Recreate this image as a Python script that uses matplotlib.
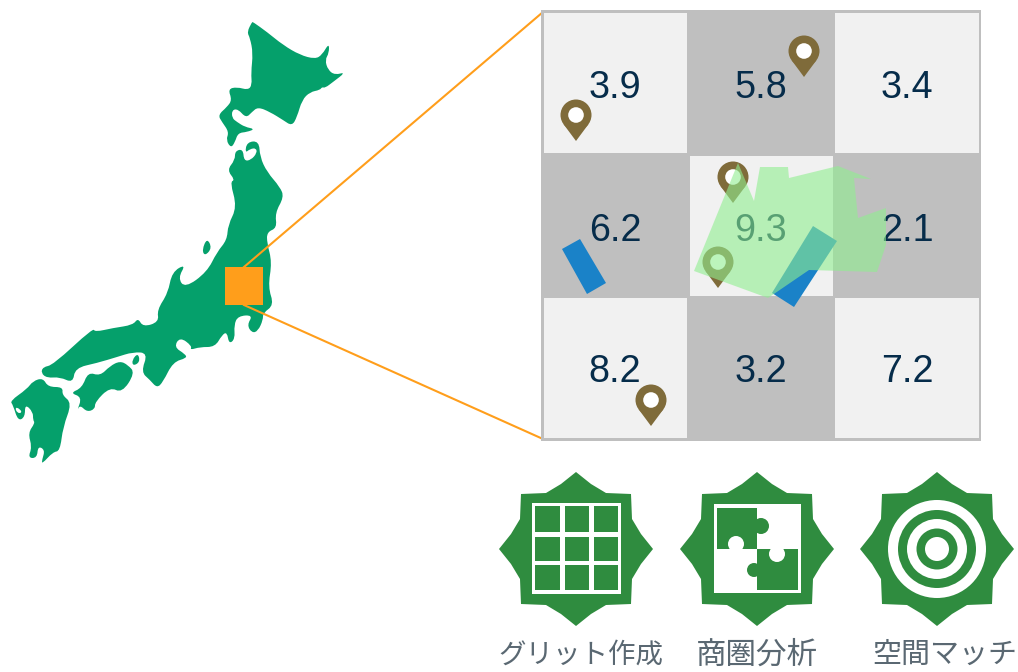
import numpy as np
import matplotlib
matplotlib.use("Agg")
import matplotlib.pyplot as plt
from matplotlib.patches import Polygon, Rectangle, Circle, PathPatch
from matplotlib.path import Path

# ---- data ----
cell_values = [[3.9, 5.8, 3.4], [6.2, 9.3, 2.1], [8.2, 3.2, 7.2]]
value_x = [615, 761, 907]
value_base = [98, 241, 382]
cell_x = [(544, 687), (690, 833), (835, 979)]
cell_y = [(13, 153), (156, 296), (298, 438)]
icon_labels = ["グリット作成", "商圏分析", "空間マッチ"]
label_x = [581, 757, 945]
label_px = [27.5, 30.5, 29]
icon_x = [576, 757, 937]
pins = [(576, 115), (804, 51), (733, 177), (718, 262), (651, 400)]

hokkaido = [(253,22),(267,32),(283,45),(300,55),(315,59),(322,55),(329,43),(329,53),(325,60),(328,70),(335,75),(346,72),
 (333,82),(325,88),(322,87),(320,90),(310,92),(302,100),(297,117),(292,126),(283,120),(270,112),(258,107),(252,112),
 (246,118),(238,109),(232,110),(232,118),(237,122),(245,127),(255,129),(247,132),(238,133),(235,142),(231,148),(226,140),
 (229,132),(222,122),(218,115),(227,107),(232,100),(228,89),(237,87),(248,90),(252,85),(251,73),(253,53),(250,38),(247,32),(252,22)]
honshu = [(247,142),(259,141),(260,157),(267,172),(280,187),(284,197),(275,213),(277,228),(267,232),(267,243),(272,262),
 (268,287),(274,305),(263,313),(263,320),(258,331),(252,333),(247,325),(253,315),(238,316),(234,325),(235,339),(229,344),
 (227,332),(222,335),(215,347),(200,347),(190,350),(192,346),(180,337),(174,347),(185,354),(187,358),(173,362),(163,382),
 (157,388),(150,380),(141,372),(148,353),(133,352),(117,357),(97,363),(75,368),(73,383),(60,377),(47,378),(41,373),(43,367),
 (53,365),(93,328),(95,332),(113,328),(133,325),(138,318),(143,327),(159,322),(157,310),(168,293),(172,272),(186,264),
 (178,278),(185,288),(207,272),(217,252),(227,240),(228,225),(237,207),(230,182),(235,180),(227,170),(235,160),(235,151),
 (243,149),(244,161),(251,160),(257,153),(256,148),(250,149),(245,153)]
sado = [(207,238),(212,248),(205,256),(202,250)]
awaji = [(138,353),(140,362),(133,366),(132,360)]
shikoku = [(120,361),(128,365),(135,373),(122,393),(110,387),(95,402),(95,409),(87,412),(80,405),(77,411),(82,397),(70,393),
 (82,388),(88,372),(100,376),(110,366)]
kyushu = [(43,378),(48,387),(63,387),(62,395),(72,403),(63,427),(60,451),(53,452),(42,464),(42,460),(45,450),(38,446),
 (37,458),(28,458),(32,447),(28,433),(35,423),(33,420),(33,412),(25,404),(25,417),(18,421),(13,405),(10,401),(27,389),(33,381)]
omura_bay = [(15,407),(20,409),(22,413),(17,413)]
area_poly = [(738,163),(754,201),(760,167),(788,167),(789,178),(838,166),(871,179),(854,178),(858,218),(886,208),(886,245),
 (877,272),(809,270),(768,298),(694,271)]
blue_rects = [[(562,249),(580,239),(606,283),(587,294)], [(813,226),(837,241),(794,307),(772,293)]]
zoom_sq = (225, 267, 38, 38)

GREEN = "#05a06b"; ORANGE = "#ff9e1b"; DARK = "#bfbfbf"; LIGHT = "#f1f1f1"; INK = "#062c4a"
PIN = "#7f6b3a"; BLUE = "#1a82c8"; ICON = "#2f8c3f"; GREY = "#5a6872"

plt.rcParams['font.family'] = ['Liberation Sans', 'DejaVu Sans']
fig = plt.figure(figsize=(10.18, 6.72), dpi=100)
ax = fig.add_axes([0, 0, 1, 1])
ax.set_xlim(0, 1018); ax.set_ylim(672, 0); ax.axis("off")

def smooth(pts):
    p = np.array(pts, float)
    n = len(p)
    verts = [(p[-1] + p[0]) / 2]; codes = [Path.MOVETO]
    for i in range(n):
        verts += [p[i], (p[i] + p[(i + 1) % n]) / 2]
        codes += [Path.CURVE3, Path.CURVE3]
    return Path(verts, codes)

for poly in [hokkaido, honshu, sado, awaji, shikoku, kyushu]:
    ax.add_patch(PathPatch(smooth(poly), fc=GREEN, ec="none", zorder=1))
ax.add_patch(PathPatch(smooth(omura_bay), fc="white", ec="none", zorder=1.5))

# callout
ax.add_patch(Rectangle(zoom_sq[:2], zoom_sq[2], zoom_sq[3], fc=ORANGE, ec="none", zorder=3))
cx_sq = zoom_sq[0] + zoom_sq[2] / 2
ax.plot([cx_sq, 543], [zoom_sq[1], 12], color=ORANGE, lw=1.5, zorder=2)
ax.plot([cx_sq, 543], [zoom_sq[1] + zoom_sq[3], 439], color=ORANGE, lw=1.5, zorder=2)

# grid
ax.add_patch(Rectangle((541, 10), 440, 431, fc=DARK, ec="none", zorder=4))
for r, row in enumerate(cell_values):
    for c, v in enumerate(row):
        if (r + c) % 2 == 0:
            ax.add_patch(Rectangle((cell_x[c][0], cell_y[r][0]), cell_x[c][1] - cell_x[c][0],
                                   cell_y[r][1] - cell_y[r][0], fc=LIGHT, ec="none", zorder=5))
        ax.text(value_x[c], value_base[r], f"{v:.1f}", ha="center", va="baseline",
                fontsize=27.2, color=INK, zorder=6)

for rect in blue_rects:
    ax.add_patch(Polygon(rect, closed=True, fc=BLUE, ec="none", zorder=7))

for (px, py) in pins:
    r = 15.5; d = 26.0
    a = np.arcsin(r / d)
    tx = r * np.cos(a); ty = r * np.sin(a)
    ax.add_patch(Circle((px, py), r, fc=PIN, ec="none", zorder=8))
    ax.add_patch(Polygon([(px - tx, py + ty), (px + tx, py + ty), (px, py + d)], closed=True,
                         fc=PIN, ec="none", zorder=8))
    ax.add_patch(Circle((px, py), 7.8, fc="white", ec="none", zorder=8))

ax.add_patch(Polygon(area_poly, closed=True, fc="#90ee90", ec="none", alpha=0.6, zorder=9))

# icons
star_unit = [(0,-77),(15,-65),(30,-56),(55,-55),(56,-30),(65,-15),(77,0),(65,15),(56,30),(55,55),(30,56),(15,65),
             (0,77),(-15,65),(-30,56),(-55,55),(-56,30),(-65,15),(-77,0),(-65,-15),(-56,-30),(-55,-55),(-30,-56),(-15,-65)]
iy = 549
for ix in icon_x:
    ax.add_patch(Polygon([(ix + a, iy + b) for a, b in star_unit], closed=True, fc=ICON, ec="none", zorder=2))

# icon 1: grid
ix = icon_x[0]
ax.add_patch(Rectangle((ix - 44, iy - 46), 89, 91, fc="white", ec="none", zorder=3))
for x0, x1 in [(-41, -16), (-11, 13), (18, 42)]:
    for y0, y1 in [(-43, -17), (-12, 12), (16, 41)]:
        ax.add_patch(Rectangle((ix + x0, iy + y0), x1 - x0, y1 - y0, fc=ICON, ec="none", zorder=4))

# icon 2: puzzle
ix = icon_x[1]
ax.add_patch(Rectangle((ix - 43, iy - 45), 87, 89, fc="white", ec="none", zorder=3))
ax.add_patch(Rectangle((ix - 40, iy - 41), 40, 41, fc=ICON, ec="none", zorder=4))
ax.add_patch(Circle((ix + 4, iy - 23), 8, fc=ICON, ec="none", zorder=4))
ax.add_patch(Circle((ix - 21, iy - 5), 8, fc="white", ec="none", zorder=5))
ax.add_patch(Rectangle((ix, iy), 41, 41, fc=ICON, ec="none", zorder=4))
ax.add_patch(Circle((ix + 20, iy + 5), 8, fc="white", ec="none", zorder=5))
ax.add_patch(Circle((ix - 3, iy + 21), 7, fc=ICON, ec="none", zorder=4))

# icon 3: target
ix = icon_x[2]
for i, (rad, col) in enumerate([(49, "white"), (39, ICON), (30, "white"), (20.5, ICON), (12, "white")]):
    ax.add_patch(Circle((ix, iy), rad, fc=col, ec="none", zorder=3 + i))

# labels
for lab, lx, px in zip(icon_labels, label_x, label_px):
    ax.text(lx, 655, lab, ha="center", va="center", fontsize=px * 0.72, color=GREY,
            family=['Noto Sans CJK JP', 'DejaVu Sans'], zorder=5)

fig.savefig("out.png", dpi=100)
